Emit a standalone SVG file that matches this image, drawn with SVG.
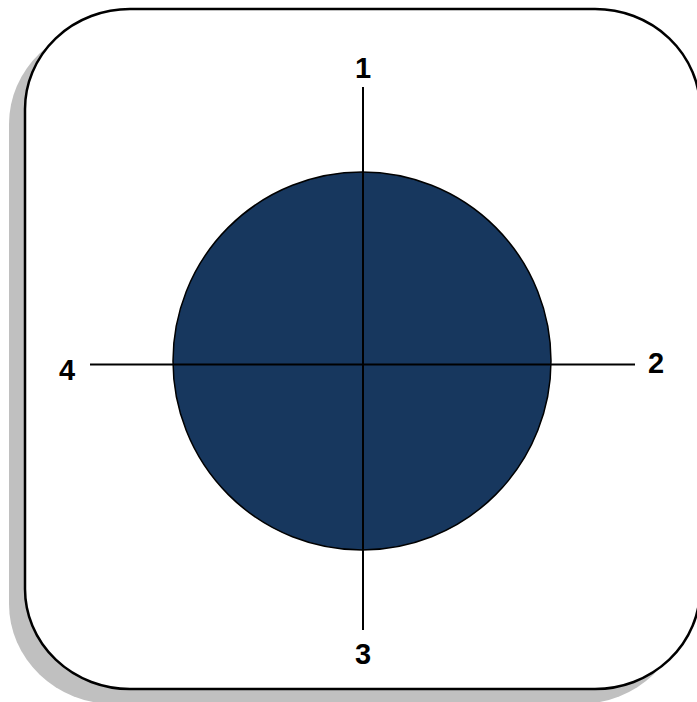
<svg xmlns="http://www.w3.org/2000/svg" width="697" height="702" viewBox="0 0 697 702">
<style>
.lbl{font-family:"Liberation Sans",Arial,sans-serif;font-weight:bold;font-size:29px;fill:#000;text-anchor:middle}
.axis{stroke:#000;stroke-width:2;fill:none}
</style>
<rect width="697" height="702" fill="#fff"/>
<g id="frame">
<rect x="9" y="24" width="675" height="680" rx="105" ry="100" fill="#c0c0c0"/>
<rect x="25" y="9" width="675" height="680" rx="105" ry="100" fill="#fff" stroke="#000" stroke-width="2.5"/>
</g>
<g id="circle">
<circle cx="362" cy="361" r="189" fill="#17375e" stroke="#000" stroke-width="1.5"/>
</g>
<g id="connectors">
<line class="axis" x1="363" y1="87" x2="363" y2="630"/>
<line class="axis" x1="90" y1="364.5" x2="635" y2="364.5"/>
</g>
<g id="label1"><text class="lbl" x="363" y="78">1</text></g>
<g id="label2"><text class="lbl" x="656" y="373">2</text></g>
<g id="label3"><text class="lbl" x="363" y="664">3</text></g>
<g id="label4"><text class="lbl" x="67" y="380">4</text></g>
</svg>
